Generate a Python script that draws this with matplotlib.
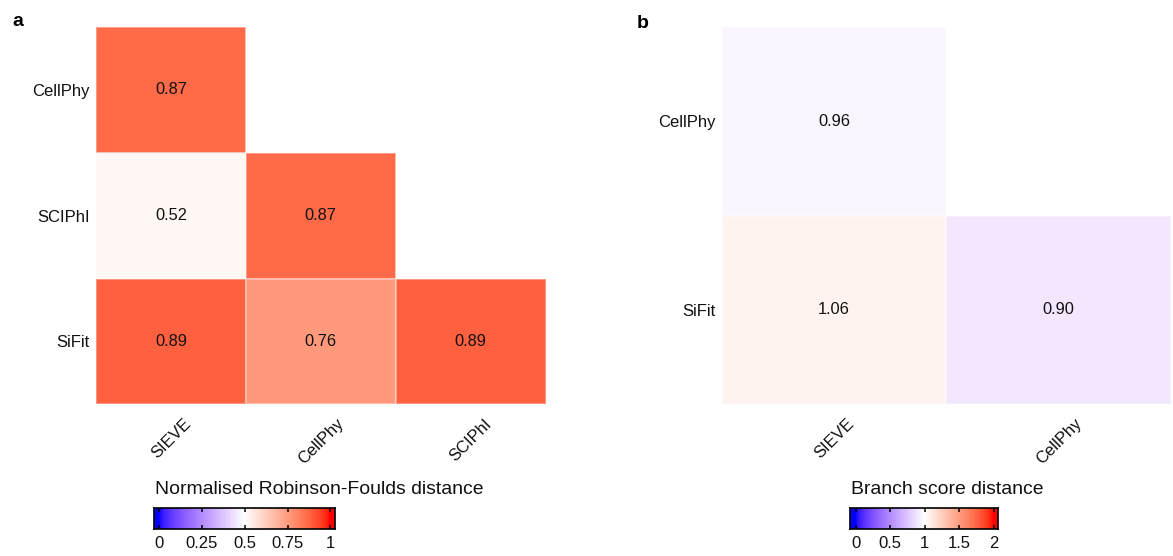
import numpy as np
import matplotlib
matplotlib.use("Agg")
import matplotlib.pyplot as plt
from matplotlib.colors import ListedColormap, Normalize

plt.rcParams['font.family'] = ['Liberation Sans', 'DejaVu Sans']

# pairwise distances (lower triangle only)
rf_rows = ["CellPhy", "SCIPhI", "SiFit"]
rf_cols = ["SIEVE", "CellPhy", "SCIPhI"]
rf_values = [[0.87, np.nan, np.nan],
             [0.52, 0.87, np.nan],
             [0.89, 0.76, 0.89]]
rf_ticks = [0, 0.25, 0.5, 0.75, 1]
rf_tick_labels = ["0", "0.25", "0.5", "0.75", "1"]

bs_rows = ["CellPhy", "SiFit"]
bs_cols = ["SIEVE", "CellPhy"]
bs_values = [[0.96, np.nan],
             [1.06, 0.90]]
bs_ticks = [0, 0.5, 1, 1.5, 2]
bs_tick_labels = ["0", "0.5", "1", "1.5", "2"]


# blue-white-red gradient interpolated in CIE Lab
def srgb_to_lab(rgb):
    rgb = np.asarray(rgb, float)
    lin = np.where(rgb <= 0.04045, rgb / 12.92, ((rgb + 0.055) / 1.055) ** 2.4)
    m = np.array([[0.4124, 0.3576, 0.1805],
                  [0.2126, 0.7152, 0.0722],
                  [0.0193, 0.1192, 0.9505]])
    xyz = lin @ m.T / np.array([0.95047, 1.0, 1.08883])
    f = np.where(xyz > 0.008856, np.cbrt(xyz), 7.787 * xyz + 16 / 116)
    return np.stack([116 * f[..., 1] - 16,
                     500 * (f[..., 0] - f[..., 1]),
                     200 * (f[..., 1] - f[..., 2])], axis=-1)


def lab_to_srgb(lab):
    L, a, b = lab[..., 0], lab[..., 1], lab[..., 2]
    fy = (L + 16) / 116
    fx = fy + a / 500
    fz = fy - b / 200
    f = np.stack([fx, fy, fz], axis=-1)
    xyz = np.where(f ** 3 > 0.008856, f ** 3, (f - 16 / 116) / 7.787)
    xyz = xyz * np.array([0.95047, 1.0, 1.08883])
    minv = np.array([[3.2406, -1.5372, -0.4986],
                     [-0.9689, 1.8758, 0.0415],
                     [0.0557, -0.2040, 1.0570]])
    lin = xyz @ minv.T
    rgb = np.where(lin <= 0.0031308, 12.92 * lin, 1.055 * np.clip(lin, 0, None) ** (1 / 2.4) - 0.055)
    return np.clip(rgb, 0, 1)


anchors = srgb_to_lab([[0, 0, 1], [1, 1, 1], [1, 0, 0]])
t = np.linspace(0, 1, 512)
lab = np.where((t < 0.5)[:, None],
               anchors[0] + (anchors[1] - anchors[0]) * (t[:, None] / 0.5),
               anchors[1] + (anchors[2] - anchors[1]) * ((t[:, None] - 0.5) / 0.5))
bwr = ListedColormap(lab_to_srgb(lab))

fig = plt.figure(figsize=(11.73, 5.56), dpi=100)


def heatmap(rect, rows, cols, values, vmax):
    ax = fig.add_axes(rect)
    data = np.ma.masked_invalid(np.array(values))
    norm = Normalize(0, vmax)
    ax.pcolormesh(data, cmap=bwr, norm=norm, edgecolors=(1, 1, 1, 0.35), linewidth=0.3)
    for i in range(len(rows)):
        for j in range(len(cols)):
            v = values[i][j]
            if not np.isnan(v):
                ax.text(j + 0.5, i + 0.5, f"{v:.2f}", ha='center', va='center',
                        fontsize=11.8, color='#111111')
    ax.set_xlim(0, len(cols))
    ax.set_ylim(len(rows), 0)
    ax.set_xticks(np.arange(len(cols)) + 0.5)
    ax.set_yticks(np.arange(len(rows)) + 0.5)
    ax.set_xticklabels(cols, rotation=45, ha='center', va='top', fontsize=12, color='#111111')
    ax.set_yticklabels(rows, fontsize=12, color='#111111')
    ax.tick_params(length=0, pad=4.5)
    ax.tick_params(axis='x', pad=8.5)
    for s in ax.spines.values():
        s.set_visible(False)
    return norm


def colourbar(rect, norm, lo, hi, ticks, labels, title, title_x):
    cax = fig.add_axes(rect)
    xs = np.linspace(lo, hi, 300)
    cax.imshow(xs[None, :], cmap=bwr, norm=norm, aspect='auto',
               extent=(lo, hi, 0, 1), interpolation='bilinear')
    cax.set_xlim(lo, hi)
    cax.set_ylim(0, 1)
    cax.vlines(ticks, 0, 0.2, color='black', lw=1.1)
    cax.vlines(ticks, 0.8, 1, color='black', lw=1.1)
    cax.set_yticks([])
    cax.set_xticks(ticks)
    cax.set_xticklabels(labels, fontsize=12, color='#111111')
    cax.tick_params(axis='x', length=0, pad=4.5)
    for s in cax.spines.values():
        s.set_linewidth(1.2)
    fig.text(title_x, 1 - 494 / 556, title, fontsize=13.95, color='#111111',
             ha='left', va='baseline')


norm_a = heatmap([96 / 1173, 1 - 404.3 / 556, 449.7 / 1173, 377.3 / 556],
                 rf_rows, rf_cols, rf_values, 1)
norm_b = heatmap([721.7 / 1173, 1 - 404.3 / 556, 449.3 / 1173, 377.3 / 556],
                 bs_rows, bs_cols, bs_values, 2)

colourbar([154.3 / 1173, 1 - 529.3 / 556, 181 / 1173, 21.6 / 556], norm_a,
          -0.0256, 1.028, rf_ticks, rf_tick_labels,
          "Normalised Robinson-Foulds distance", 155 / 1173)
colourbar([850.3 / 1173, 1 - 529.3 / 556, 148 / 1173, 21.6 / 556], norm_b,
          -0.078, 2.067, bs_ticks, bs_tick_labels,
          "Branch score distance", 851 / 1173)

fig.text(12 / 1173, 1 - 26 / 556, "a", fontsize=14, fontweight='bold', va='baseline')
fig.text(637 / 1173, 1 - 28 / 556, "b", fontsize=14, fontweight='bold', va='baseline')

fig.savefig("out.png", dpi=100)
